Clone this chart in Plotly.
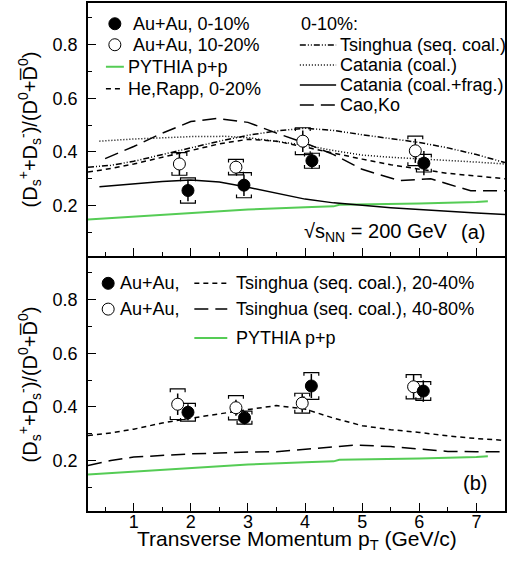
import plotly.graph_objects as go

# ---------------- data ----------------
# panel (a): 0-10% and 10-20% Au+Au
a_cen_x = [1.95, 2.93, 4.12, 6.08]
a_cen_y = [0.256, 0.276, 0.367, 0.358]
a_cen_stat = [0.040, 0.040, 0.030, 0.045]
a_cen_sys = [0.047, 0.047, 0.028, 0.033]

a_mid_x = [1.80, 2.79, 3.96, 5.93]
a_mid_y = [0.355, 0.343, 0.440, 0.404]
a_mid_stat = [0.042, 0.025, 0.040, 0.045]
a_mid_sys = [0.042, 0.029, 0.050, 0.055]

# panel (b)
b_fill_x = [1.95, 2.94, 4.11, 6.07]
b_fill_y = [0.380, 0.360, 0.478, 0.459]
b_fill_stat = [0.030, 0.025, 0.045, 0.040]
b_fill_sys = [0.033, 0.024, 0.050, 0.035]

b_open_x = [1.77, 2.79, 3.95, 5.90]
b_open_y = [0.410, 0.397, 0.414, 0.475]
b_open_stat = [0.040, 0.030, 0.035, 0.045]
b_open_sys = [0.057, 0.045, 0.037, 0.045]

# model curves, panel (a)
tsinghua_x = [0.2, 0.6, 1.0, 1.5, 2.0, 2.5, 3.0, 3.5, 4.0, 4.5, 5.0, 5.5, 6.0, 6.5, 7.0, 7.5]
tsinghua_y = [0.343, 0.350, 0.365, 0.390, 0.415, 0.440, 0.462, 0.478, 0.488, 0.480, 0.464, 0.450, 0.435, 0.415, 0.390, 0.360]

catania_coal_x = [0.4, 1.0, 2.0, 2.6, 3.0, 3.5, 4.0, 4.5, 5.0, 5.5, 6.0, 6.5, 7.0, 7.5]
catania_coal_y = [0.440, 0.448, 0.457, 0.458, 0.453, 0.440, 0.425, 0.405, 0.388, 0.380, 0.373, 0.368, 0.362, 0.355]

catania_frag_x = [0.4, 1.0, 1.5, 2.0, 2.5, 3.0, 3.5, 4.0, 4.5, 5.0, 5.5, 6.0, 6.5, 7.0, 7.5]
catania_frag_y = [0.270, 0.280, 0.290, 0.295, 0.288, 0.268, 0.245, 0.224, 0.210, 0.200, 0.192, 0.185, 0.178, 0.172, 0.167]

caoko_x = [0.5, 1.0, 1.5, 2.0, 2.45, 3.0, 3.5, 4.0, 4.5, 5.0, 5.65, 6.2, 6.5, 6.9, 7.5]
caoko_y = [0.375, 0.420, 0.470, 0.513, 0.525, 0.510, 0.470, 0.433, 0.390, 0.335, 0.293, 0.300, 0.280, 0.255, 0.255]

herapp_x = [0.2, 0.6, 1.0, 1.5, 2.0, 2.5, 3.0, 3.5, 4.0, 4.5, 5.0, 5.5, 6.0, 6.5, 7.0, 7.5]
herapp_y = [0.325, 0.338, 0.355, 0.380, 0.405, 0.430, 0.447, 0.440, 0.418, 0.395, 0.373, 0.352, 0.335, 0.320, 0.310, 0.300]

# model curves, panel (b)
ts2040_x = [0.2, 0.6, 1.0, 1.5, 2.0, 2.5, 3.0, 3.5, 4.0, 4.5, 5.0, 5.5, 6.0, 6.5, 7.0, 7.5]
ts2040_y = [0.293, 0.303, 0.317, 0.340, 0.358, 0.375, 0.390, 0.405, 0.392, 0.358, 0.330, 0.315, 0.305, 0.292, 0.282, 0.275]

ts4080_x = [0.2, 0.6, 1.0, 1.5, 2.0, 2.5, 3.0, 3.5, 4.0, 4.5, 4.9, 5.5, 6.0, 6.5, 7.0, 7.5]
ts4080_y = [0.182, 0.200, 0.213, 0.220, 0.225, 0.228, 0.232, 0.233, 0.242, 0.252, 0.258, 0.252, 0.242, 0.234, 0.233, 0.233]

# PYTHIA p+p baseline (both panels)
pythia_x = [0.2, 1.0, 2.0, 3.0, 4.0, 4.5, 4.6, 5.0, 6.0, 7.0, 7.2]
pythia_y = [0.148, 0.158, 0.172, 0.185, 0.194, 0.197, 0.203, 0.204, 0.208, 0.213, 0.216]

x_ticks = [1, 2, 3, 4, 5, 6, 7]
y_ticks = [0.2, 0.4, 0.6, 0.8]

# ---------------- style ----------------
FONT = "Liberation Sans, Arial, sans-serif"
GREEN = "#55cc55"
BLACK = "black"
DASH_SHORT = "5px,4px"
DASH_LONG = "14px,7px"
DASH_DOTDOT = "6px,2px,1px,2px,1px,2px"
DASH_DOT = "1px,2px"

fig = go.Figure()


def curve(x, y, dash, color=BLACK, width=1.5, ax=""):
    fig.add_trace(go.Scatter(x=x, y=y, mode="lines", xaxis="x" + ax, yaxis="y" + ax,
                             line=dict(color=color, width=width, dash=dash),
                             hoverinfo="skip", showlegend=False))


def brackets(x, y, sys, ax=""):
    # systematic-uncertainty brackets built from the point values
    hw, tk = 0.13, 0.012
    bx, by = [], []
    for xi, yi, si in zip(x, y, sys):
        top, bot = yi + si, yi - si
        bx += [xi - hw, xi - hw, xi + hw, xi + hw, None]
        by += [top - tk, top, top, top - tk, None]
        bx += [xi - hw, xi - hw, xi + hw, xi + hw, None]
        by += [bot + tk, bot, bot, bot + tk, None]
    fig.add_trace(go.Scatter(x=bx, y=by, mode="lines", xaxis="x" + ax, yaxis="y" + ax,
                             line=dict(color=BLACK, width=1.2), hoverinfo="skip",
                             showlegend=False))


def points(x, y, stat, filled, ax=""):
    fig.add_trace(go.Scatter(
        x=x, y=y, mode="markers", xaxis="x" + ax, yaxis="y" + ax,
        error_y=dict(type="data", array=stat, color=BLACK, thickness=1.5, width=0),
        marker=dict(symbol="circle", size=12,
                    color=BLACK if filled else "white",
                    line=dict(color=BLACK, width=1)),
        showlegend=False))


# panel (a)
curve(pythia_x, pythia_y, "solid", GREEN, 2)
curve(catania_frag_x, catania_frag_y, "solid")
curve(catania_coal_x, catania_coal_y, DASH_DOT)
curve(tsinghua_x, tsinghua_y, DASH_DOTDOT)
curve(herapp_x, herapp_y, DASH_SHORT)
curve(caoko_x, caoko_y, DASH_LONG)
brackets(a_mid_x, a_mid_y, a_mid_sys)
brackets(a_cen_x, a_cen_y, a_cen_sys)
points(a_mid_x, a_mid_y, a_mid_stat, False)
points(a_cen_x, a_cen_y, a_cen_stat, True)

# panel (b)
curve(pythia_x, pythia_y, "solid", GREEN, 2, "2")
curve(ts2040_x, ts2040_y, DASH_SHORT, ax="2")
curve(ts4080_x, ts4080_y, DASH_LONG, ax="2")
brackets(b_open_x, b_open_y, b_open_sys, "2")
brackets(b_fill_x, b_fill_y, b_fill_sys, "2")
points(b_open_x, b_open_y, b_open_stat, False, "2")
points(b_fill_x, b_fill_y, b_fill_stat, True, "2")

# ---------------- axes ----------------
ytitle = "(D<sub>s</sub><sup>+</sup>+D<sub>s</sub><sup>-</sup>)/(D<sup>0</sup>+D\u0305<sup>0</sup>)"
common_x = dict(range=[0.2, 7.5], tickvals=x_ticks, ticks="inside", ticklen=8, tickwidth=1,
                tickcolor=BLACK, showline=True, linecolor=BLACK, linewidth=1.5, mirror=True,
                showgrid=False, zeroline=False,
                minor=dict(dtick=0.5, tick0=0, ticks="inside", ticklen=4, tickcolor=BLACK),
                tickfont=dict(family=FONT, size=18, color=BLACK))
common_y = dict(range=[0.012, 0.955], tickvals=y_ticks, ticktext=["0.2", "0.4", "0.6", "0.8"],
                ticks="inside", ticklen=8, tickwidth=1, tickcolor=BLACK, showline=True,
                linecolor=BLACK, linewidth=1.5, mirror=True, showgrid=False, zeroline=False,
                minor=dict(dtick=0.1, tick0=0, ticks="inside", ticklen=4, tickcolor=BLACK),
                tickfont=dict(family=FONT, size=18, color=BLACK), ticklabelstandoff=5,
                title=dict(text=ytitle, font=dict(family=FONT, size=20, color=BLACK), standoff=10))

fig.update_layout(
    width=508, height=572,
    margin=dict(l=88, r=1, t=1, b=61),
    plot_bgcolor="white", paper_bgcolor="white",
    font=dict(family=FONT, color=BLACK),
    xaxis=dict(common_x, domain=[0, 1], anchor="y", showticklabels=False),
    yaxis=dict(common_y, domain=[0.502, 1], anchor="x"),
    xaxis2=dict(common_x, domain=[0, 1], anchor="y2", ticklabelstandoff=-6),
    yaxis2=dict(common_y, domain=[0, 0.498], anchor="x2"),
)

# ---------------- legends ----------------
shapes = []
annotations = []


def leg_line(ax, x0, x1, y, dash, color=BLACK, width=1.5):
    shapes.append(dict(type="line", xref=f"x{ax} domain", yref=f"y{ax} domain",
                       x0=x0, x1=x1, y0=y, y1=y,
                       line=dict(color=color, width=width, dash=dash)))


def leg_marker(ax, x, y, filled):
    shapes.append(dict(type="circle", xref=f"x{ax} domain", yref=f"y{ax} domain",
                       xsizemode="pixel", ysizemode="pixel", xanchor=x, yanchor=y,
                       x0=-6, x1=6, y0=-6, y1=6,
                       fillcolor=BLACK if filled else "white",
                       line=dict(color=BLACK, width=1)))


def leg_text(ax, x, y, text, size=18, xanchor="left"):
    annotations.append(dict(xref=f"x{ax} domain", yref=f"y{ax} domain", x=x, y=y,
                            text=text, showarrow=False, xanchor=xanchor, yanchor="middle",
                            font=dict(family=FONT, size=size, color=BLACK)))


# panel (a) legend
leg_marker("", 0.0644, 0.918, True)
leg_text("", 0.104, 0.918, "Au+Au, 0-10%")
leg_marker("", 0.0644, 0.835, False)
leg_text("", 0.104, 0.835, "Au+Au, 10-20%")
leg_line("", 0.043, 0.086, 0.748, "solid", GREEN, 2)
leg_text("", 0.092, 0.748, "PYTHIA p+p")
leg_line("", 0.043, 0.086, 0.661, DASH_SHORT)
leg_text("", 0.092, 0.661, "He,Rapp, 0-20%")

leg_text("", 0.505, 0.918, "0-10%:")
for yy, dash, label in [(0.834, DASH_DOTDOT, "Tsinghua (seq. coal.)"),
                        (0.755, DASH_DOT, "Catania (coal.)"),
                        (0.676, "solid", "Catania (coal.+frag.)"),
                        (0.597, DASH_LONG, "Cao,Ko")]:
    leg_line("", 0.508, 0.595, yy, dash)
    leg_text("", 0.600, yy, label)

leg_text("", 0.513, 0.0945, "\u221as<sub>NN</sub> = 200 GeV", size=20)
leg_text("", 0.924, 0.0945, "(a)", size=20, xanchor="center")

# panel (b) legend
leg_marker("2", 0.0484, 0.900, True)
leg_text("2", 0.072, 0.900, "Au+Au,")
leg_marker("2", 0.0484, 0.798, False)
leg_text("2", 0.072, 0.798, "Au+Au,")
leg_line("2", 0.255, 0.334, 0.900, DASH_SHORT)
leg_text("2", 0.350, 0.900, "Tsinghua (seq. coal.), 20-40%")
leg_line("2", 0.255, 0.334, 0.798, DASH_LONG)
leg_text("2", 0.350, 0.798, "Tsinghua (seq. coal.), 40-80%")
leg_line("2", 0.255, 0.334, 0.684, "solid", GREEN, 2)
leg_text("2", 0.350, 0.684, "PYTHIA p+p")
leg_text("2", 0.928, 0.109, "(b)", size=20, xanchor="center")

# x-axis title of the lower panel
annotations.append(dict(xref="paper", yref="paper", x=0.5, y=-0.058,
                        text="Transverse Momentum p<sub>T</sub> (GeV/c)", showarrow=False,
                        xanchor="center", yanchor="middle",
                        font=dict(family=FONT, size=21, color=BLACK)))

fig.update_layout(shapes=shapes, annotations=annotations)

fig.write_html("out.html")
